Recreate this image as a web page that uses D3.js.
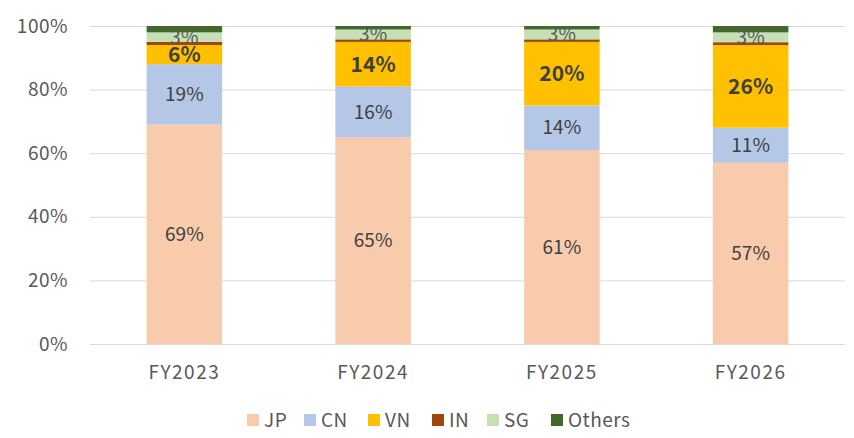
<!DOCTYPE html>
<html>
<head>
<meta charset="utf-8">
<script src="https://cdn.jsdelivr.net/npm/d3@7"></script>
<style>
  body { margin: 0; background: #fff; }
  svg { font-family: "Noto Sans CJK JP", "Noto Sans", sans-serif; }
</style>
</head>
<body>
<svg id="chart" width="854" height="438"></svg>
<script>
var years = ["FY2023", "FY2024", "FY2025", "FY2026"];
var series = ["JP", "CN", "VN", "IN", "SG", "Others"];
var colors = ["#f8cbad", "#b4c7e7", "#ffc000", "#9e480e", "#c5e0b4", "#43682b"];
// share in %, per series, one value per year
var JP = [69, 65, 61, 57];
var CN = [19, 16, 14, 11];
var VN = [6, 14, 20, 26];
var IN = [1, 0.8, 0.8, 0.9];
var SG = [3, 3.1, 3.1, 3.1];
var Others = [2, 1.1, 1.1, 2];
var yTicks = [0, 20, 40, 60, 80, 100];

var margin = {top: 26, right: 9, bottom: 94, left: 90},
  width = 854 - margin.left - margin.right,
  height = 438 - margin.top - margin.bottom;

var rows = years.map(function (y, i) {
  return {year: y, JP: JP[i], CN: CN[i], VN: VN[i], IN: IN[i], SG: SG[i], Others: Others[i]};
});

var stack = d3.stack().keys(series)(rows);

var x = d3.scaleBand().domain(years).range([0, width]).paddingInner(0.6).paddingOuter(0.3);
var y = d3.scaleLinear().domain([0, 100]).range([height, 0]);
var color = d3.scaleOrdinal().domain(series).range(colors);

var svg = d3.select("#chart").append("g")
  .attr("transform", "translate(" + margin.left + "," + margin.top + ")");

// gridlines
svg.selectAll(".grid").data(yTicks).enter().append("line")
  .attr("x1", 0).attr("x2", width)
  .attr("y1", function (d) { return y(d) + 0.5; })
  .attr("y2", function (d) { return y(d) + 0.5; })
  .attr("stroke", "#d9d9d9").attr("stroke-width", 1);

// y labels
svg.selectAll(".ylab").data(yTicks).enter().append("text")
  .attr("x", -22).attr("y", function (d) { return y(d); })
  .attr("dy", "0.35em").attr("text-anchor", "end")
  .attr("font-size", 19).attr("letter-spacing", 0.5).attr("fill", "#595959")
  .text(function (d) { return d + "%"; });

// bars
var layer = svg.selectAll(".layer").data(stack).enter().append("g")
  .attr("fill", function (d) { return color(d.key); });

layer.selectAll("rect").data(function (d) { return d; }).enter().append("rect")
  .attr("x", function (d) { return x(d.data.year); })
  .attr("width", x.bandwidth())
  .attr("y", function (d) { return y(d[1]); })
  .attr("height", function (d) { return y(d[0]) - y(d[1]); });

// segment labels
var labelled = ["JP", "CN", "VN", "SG"];
stack.filter(function (s) { return labelled.indexOf(s.key) >= 0; }).forEach(function (s) {
  svg.selectAll(".lab-" + s.key).data(s).enter().append("text")
    .attr("x", function (d) { return x(d.data.year) + x.bandwidth() / 2; })
    .attr("y", function (d) { return y((d[0] + d[1]) / 2); })
    .attr("dy", "0.35em").attr("text-anchor", "middle")
    .attr("font-size", s.key == "VN" ? 21 : 19)
    .attr("font-weight", s.key == "VN" ? "bold" : "normal")
    .attr("fill", s.key == "SG" ? "#595959" : "#404040")
    .text(function (d) { return Math.round(d[1] - d[0]) + "%"; });
});

// x labels
svg.selectAll(".xlab").data(years).enter().append("text")
  .attr("x", function (d) { return x(d) + x.bandwidth() / 2; })
  .attr("y", height + 28).attr("dy", "0.35em")
  .attr("text-anchor", "middle").attr("font-size", 19).attr("letter-spacing", 1.5)
  .attr("fill", "#595959")
  .text(function (d) { return d; });

// legend
var legendX = [247, 304, 368, 432, 487, 551];
var legend = d3.select("#chart").append("g").attr("transform", "translate(0,420)");
var item = legend.selectAll("g").data(series).enter().append("g")
  .attr("transform", function (d, i) { return "translate(" + legendX[i] + ",0)"; });
item.append("rect").attr("x", 0).attr("y", -6).attr("width", 12).attr("height", 12)
  .attr("fill", function (d) { return color(d); });
item.append("text").attr("x", 17).attr("y", 0).attr("dy", "0.35em")
  .attr("font-size", 19).attr("letter-spacing", 0.5).attr("fill", "#595959")
  .text(function (d) { return d; });
</script>
</body>
</html>
